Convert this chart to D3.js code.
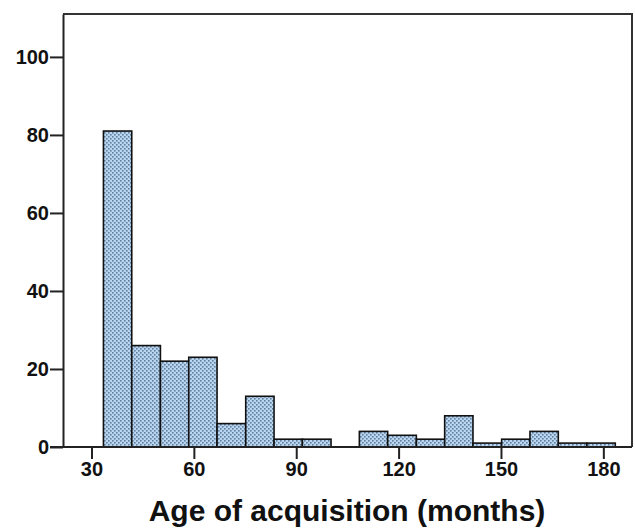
<!DOCTYPE html>
<meta charset="utf-8">
<head>
	<title>Age of acquisition histogram</title>
</head>
<style>
body{
	margin: 0;
	background: #fff;
}
svg{
	display: block;
}
.tick text{
	font-family: "Liberation Sans", Arial, sans-serif;
	font-weight: bold;
	font-size: 20px;
	fill: #111;
}
.title{
	font-family: "Liberation Sans", Arial, sans-serif;
	font-weight: bold;
	font-size: 30px;
	fill: #111;
}
</style>
<body>
<svg width="635" height="530"></svg>

<script src="https://cdnjs.cloudflare.com/ajax/libs/d3/7.8.5/d3.min.js"></script>
<script>

// bin edges (months) and counts
var binEdges = [33.5, 41.8, 50.2, 58.5, 66.8, 75.2, 83.5, 91.8, 100.2, 108.5,
	116.8, 125.2, 133.5, 141.8, 150.2, 158.5, 166.8, 175.2, 183.5];
var counts = [81, 26, 22, 23, 6, 13, 2, 2, 0, 4, 3, 2, 8, 1, 2, 4, 1, 1];
var xTicks = [30, 60, 90, 120, 150, 180];
var yTicks = [0, 20, 40, 60, 80, 100];

var svg = d3.select('svg');

var x = d3.scaleLinear().domain([21.65, 188.4]).range([63, 632]);
var y = d3.scaleLinear().domain([0, 111]).range([447, 14]);

// dotted fill
var pat = svg.append('defs').append('pattern')
	.attr('id', 'dots')
	.attr('patternUnits', 'userSpaceOnUse')
	.attr('width', 4)
	.attr('height', 4);
pat.append('rect').attr('width', 4).attr('height', 4).attr('fill', '#b9d5ef');
pat.append('rect').attr('x', 0).attr('y', 0).attr('width', 1.6).attr('height', 1.6).attr('fill', '#5f7f9f');
pat.append('rect').attr('x', 2).attr('y', 2).attr('width', 1.6).attr('height', 1.6).attr('fill', '#5f7f9f');

var bins = counts.map(function(c, i){
	return {x0: binEdges[i], x1: binEdges[i+1], n: c};
}).filter(function(d){ return d.n > 0; });

svg.append('g')
	.selectAll('rect')
	.data(bins)
	.enter()
	.append('rect')
	.attr('x', function(d){ return x(d.x0); })
	.attr('width', function(d){ return x(d.x1) - x(d.x0); })
	.attr('y', function(d){ return y(d.n); })
	.attr('height', function(d){ return y(0) - y(d.n); })
	.attr('fill', 'url(#dots)')
	.attr('stroke', '#111')
	.attr('stroke-width', 1.6);

// frame top / right
svg.append('path')
	.attr('d', 'M' + x.range()[0] + ',' + y.range()[1] + 'H' + x.range()[1] + 'V' + y(0))
	.attr('fill', 'none')
	.attr('stroke', '#333')
	.attr('stroke-width', 2);

// axes
var yAxis = svg.append('g')
	.attr('transform', 'translate(63,0)')
	.call(d3.axisLeft(y).tickValues(yTicks).tickSize(13).tickPadding(1).tickSizeOuter(0));

var xAxis = svg.append('g')
	.attr('transform', 'translate(0,447)')
	.call(d3.axisBottom(x).tickValues(xTicks).tickSize(12).tickPadding(3).tickSizeOuter(0));

svg.selectAll('.domain, .tick line')
	.attr('stroke', '#222')
	.attr('stroke-width', 2);

xAxis.select('.domain').attr('d', 'M50,0H632');

svg.append('text')
	.attr('class', 'title')
	.attr('x', 347)
	.attr('y', 521)
	.attr('text-anchor', 'middle')
	.text('Age of acquisition (months)');

</script>
</body>
